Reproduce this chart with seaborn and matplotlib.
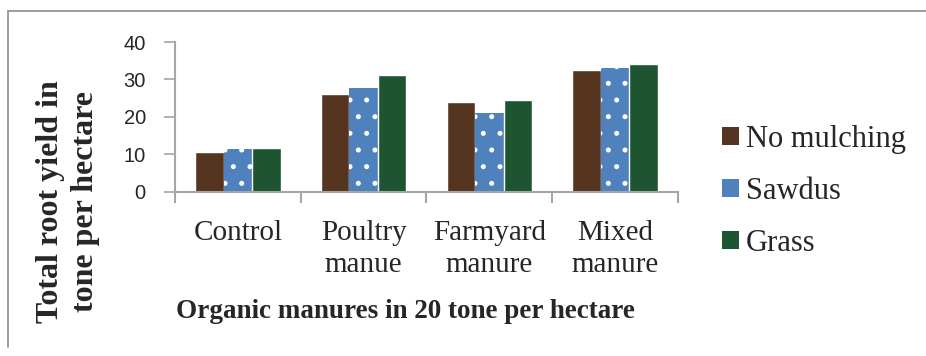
import pandas as pd
import matplotlib.pyplot as plt
import seaborn as sns
from matplotlib.lines import Line2D

# values
manures = ['Control', 'Poultry\nmanue', 'Farmyard\nmanure', 'Mixed\nmanure']
no_mulching = [10.7, 26.1, 24.0, 32.5]
sawdus = [11.5, 27.6, 21.1, 33.1]
grass = [11.7, 31.2, 24.5, 34.1]
mulches = ['No mulching', 'Sawdus', 'Grass']

df = pd.DataFrame({
    'Manure': manures * 3,
    'Mulch': [m for m in mulches for _ in manures],
    'Yield': no_mulching + sawdus + grass,
})

sns.set_style('white')
plt.rcParams['font.family'] = ['Liberation Serif', 'DejaVu Serif']
plt.rcParams['hatch.color'] = 'white'
plt.rcParams['hatch.linewidth'] = 1.2

colors = ['#55351f', '#4f81bd', '#1d5530']
grey = '#a6a6a6'
serif = ['Liberation Serif', 'DejaVu Serif']

fig = plt.figure(figsize=(9.26, 3.56), dpi=100)
ax = fig.add_axes([0.189, 0.461, 0.543, 0.421])

sns.barplot(data=df, x='Manure', y='Yield', hue='Mulch', palette=colors,
            width=0.68, saturation=1, legend=True, ax=ax)

# dotted fill on the sawdust bars
for bar in ax.containers[1]:
    bar.set_hatch('.')
    bar.set_edgecolor('white')
    bar.set_linewidth(0)

ax.set_ylim(0, 40)
ax.set_yticks([0, 10, 20, 30, 40])
ax.set_xlim(-0.5, len(manures) - 0.5)
ax.set_xlabel('')
ax.set_ylabel('')

for side in ['top', 'right']:
    ax.spines[side].set_visible(False)
for side in ['left', 'bottom']:
    ax.spines[side].set_color(grey)
    ax.spines[side].set_linewidth(1.5)

ax.tick_params(axis='y', direction='out', length=8, width=1.2, color=grey,
               labelsize=14.5, pad=13, left=True)
for t in ax.get_yticklabels():
    t.set_family(['Liberation Sans', 'DejaVu Sans'])

# category boundary ticks below the x axis
ax.set_xticks([-0.5, 0.5, 1.5, 2.5, 3.5], minor=True)
ax.tick_params(axis='x', which='minor', direction='out', length=8, width=1.5,
               color=grey, bottom=True)
ax.tick_params(axis='x', which='major', length=0, labelsize=21, pad=20)
for t in ax.get_xticklabels():
    t.set_linespacing(1.3)
    t.set_family(serif)

leg = ax.legend(loc='center left', bbox_to_anchor=(1.063, 0.005), frameon=False,
                fontsize=22, handlelength=0.55, handleheight=0.55,
                handletextpad=0.25, labelspacing=0.75, borderaxespad=0)
for t in leg.get_texts():
    t.set_fontfamily(serif)
for h in leg.legend_handles:
    h.set_edgecolor('none')
leg.legend_handles[1].set_hatch('')

fig.text(405 / 926, 1 - 312 / 356, 'Organic manures in 20 tone per hectare',
         ha='center', va='center', fontsize=19.5, fontweight='bold',
         family=serif)
fig.text(68 / 926, 1 - 202 / 356, 'Total root yield in\ntone per hectare',
         ha='center', va='center', rotation=90, fontsize=23,
         fontweight='bold', linespacing=1.25, family=serif)

# outer frame (left and top edges visible in the reference)
fig.add_artist(Line2D([8 / 926, 8 / 926], [1 - 347 / 356, 1 - 11 / 356],
                      transform=fig.transFigure, color='#8c8c8c', lw=1.2))
fig.add_artist(Line2D([8 / 926, 1.0], [1 - 11 / 356, 1 - 11 / 356],
                      transform=fig.transFigure, color='#8c8c8c', lw=1.2))

fig.savefig('out.png', dpi=100, facecolor='white')
